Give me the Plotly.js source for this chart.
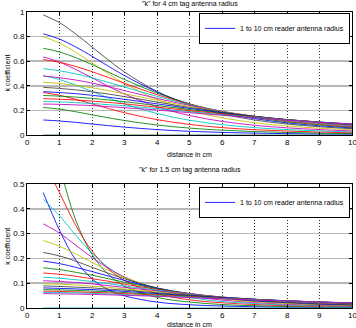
<!DOCTYPE html>
<html>
<head>
<meta charset="utf-8">
<script src="https://cdn.plot.ly/plotly-3.0.1.min.js"></script>
<style>
  html, body { margin: 0; padding: 0; background: #fff; }
  #chart { width: 356px; height: 328px; }
</style>
</head>
<body>
<div id="chart"></div>
<script>
// Distances (cm) at which the coupling coefficient is tabulated
const distance = [0.5, 1, 1.5, 2, 2.5, 3, 4, 5, 6, 7, 8, 9, 10];

// Reader antenna radii (cm), one curve per radius
const readerRadius = [1, 1.5, 2, 2.5, 3, 3.5, 4, 4.5, 5, 5.5, 6, 6.5, 7, 7.5, 8, 8.5, 9, 9.5, 10];

// Axis ranges, tick positions and labels
const xRange = [0, 10];
const xTicks = [0, 1, 2, 3, 4, 5, 6, 7, 8, 9, 10];
const xTickText = ['0', '1', '2', '3', '4', '5', '6', '7', '8', '9', '10'];
const yTicksTop = [0, 0.2, 0.4, 0.6, 0.8, 1];
const yTickTextTop = ['0', '0.2', '0.4', '0.6', '0.8', '1'];
const yTicksBottom = [0, 0.1, 0.2, 0.3, 0.4, 0.5];
const yTickTextBottom = ['0', '0.1', '0.2', '0.3', '0.4', '0.5'];

// k for a 4 cm tag antenna, one row per reader radius
const kTag4 = [
  [0.122, 0.114, 0.103, 0.089, 0.076, 0.064, 0.044, 0.030, 0.021, 0.015, 0.011, 0.008, 0.006],
  [0.224, 0.210, 0.189, 0.164, 0.140, 0.118, 0.081, 0.056, 0.039, 0.028, 0.021, 0.015, 0.012],
  [0.345, 0.323, 0.290, 0.253, 0.216, 0.181, 0.125, 0.086, 0.060, 0.043, 0.032, 0.024, 0.018],
  [0.483, 0.451, 0.406, 0.354, 0.301, 0.253, 0.175, 0.120, 0.084, 0.060, 0.044, 0.033, 0.025],
  [0.635, 0.593, 0.533, 0.465, 0.396, 0.333, 0.230, 0.158, 0.111, 0.079, 0.058, 0.044, 0.033],
  [0.800, 0.747, 0.672, 0.586, 0.499, 0.419, 0.289, 0.200, 0.140, 0.100, 0.073, 0.055, 0.042],
  [0.977, 0.913, 0.821, 0.716, 0.610, 0.512, 0.354, 0.244, 0.171, 0.122, 0.089, 0.067, 0.051],
  [0.823, 0.780, 0.716, 0.640, 0.560, 0.483, 0.350, 0.251, 0.181, 0.133, 0.099, 0.075, 0.058],
  [0.705, 0.675, 0.629, 0.573, 0.512, 0.451, 0.341, 0.253, 0.188, 0.141, 0.107, 0.082, 0.064],
  [0.613, 0.591, 0.557, 0.515, 0.468, 0.420, 0.328, 0.251, 0.191, 0.146, 0.113, 0.088, 0.069],
  [0.539, 0.522, 0.497, 0.465, 0.428, 0.390, 0.314, 0.247, 0.193, 0.150, 0.118, 0.093, 0.074],
  [0.479, 0.466, 0.447, 0.422, 0.393, 0.361, 0.298, 0.240, 0.192, 0.152, 0.121, 0.097, 0.078],
  [0.429, 0.419, 0.404, 0.384, 0.361, 0.335, 0.283, 0.233, 0.189, 0.153, 0.123, 0.100, 0.082],
  [0.387, 0.379, 0.367, 0.351, 0.333, 0.312, 0.268, 0.224, 0.186, 0.152, 0.125, 0.102, 0.084],
  [0.352, 0.345, 0.336, 0.323, 0.307, 0.290, 0.253, 0.216, 0.181, 0.151, 0.125, 0.104, 0.086],
  [0.321, 0.316, 0.308, 0.298, 0.285, 0.271, 0.239, 0.207, 0.176, 0.149, 0.125, 0.105, 0.088],
  [0.295, 0.291, 0.284, 0.276, 0.265, 0.253, 0.226, 0.198, 0.171, 0.146, 0.124, 0.105, 0.089],
  [0.272, 0.269, 0.263, 0.256, 0.247, 0.237, 0.214, 0.189, 0.165, 0.143, 0.122, 0.105, 0.089],
  [0.252, 0.249, 0.245, 0.239, 0.231, 0.222, 0.203, 0.181, 0.160, 0.139, 0.121, 0.104, 0.089]
];

// k for a 1.5 cm tag antenna, one row per reader radius
const kTag15 = [
  [0.465, 0.314, 0.193, 0.118, 0.074, 0.049, 0.024, 0.013, 0.008, 0.005, 0.003, 0.002, 0.002],
  [0.854, 0.576, 0.354, 0.216, 0.136, 0.089, 0.043, 0.024, 0.014, 0.009, 0.006, 0.004, 0.003],
  [0.593, 0.465, 0.333, 0.230, 0.158, 0.111, 0.058, 0.033, 0.021, 0.014, 0.009, 0.007, 0.005],
  [0.438, 0.372, 0.293, 0.221, 0.164, 0.122, 0.069, 0.042, 0.026, 0.018, 0.012, 0.009, 0.007],
  [0.339, 0.302, 0.253, 0.204, 0.160, 0.125, 0.076, 0.048, 0.032, 0.022, 0.015, 0.011, 0.008],
  [0.272, 0.249, 0.218, 0.184, 0.151, 0.123, 0.080, 0.053, 0.036, 0.025, 0.018, 0.013, 0.010],
  [0.224, 0.210, 0.189, 0.164, 0.140, 0.118, 0.081, 0.056, 0.039, 0.028, 0.021, 0.015, 0.012],
  [0.189, 0.179, 0.164, 0.147, 0.129, 0.111, 0.080, 0.058, 0.042, 0.030, 0.023, 0.017, 0.013],
  [0.162, 0.155, 0.144, 0.132, 0.118, 0.104, 0.078, 0.058, 0.043, 0.032, 0.025, 0.019, 0.015],
  [0.141, 0.136, 0.128, 0.118, 0.108, 0.096, 0.075, 0.058, 0.044, 0.034, 0.026, 0.020, 0.016],
  [0.124, 0.120, 0.114, 0.107, 0.098, 0.089, 0.072, 0.057, 0.044, 0.035, 0.027, 0.021, 0.017],
  [0.110, 0.107, 0.103, 0.097, 0.090, 0.083, 0.069, 0.055, 0.044, 0.035, 0.028, 0.022, 0.018],
  [0.098, 0.096, 0.093, 0.088, 0.083, 0.077, 0.065, 0.053, 0.043, 0.035, 0.028, 0.023, 0.019],
  [0.089, 0.087, 0.084, 0.081, 0.076, 0.072, 0.061, 0.052, 0.043, 0.035, 0.029, 0.024, 0.019],
  [0.081, 0.079, 0.077, 0.074, 0.071, 0.067, 0.058, 0.050, 0.042, 0.035, 0.029, 0.024, 0.020],
  [0.074, 0.073, 0.071, 0.068, 0.066, 0.062, 0.055, 0.048, 0.040, 0.034, 0.029, 0.024, 0.020],
  [0.068, 0.067, 0.065, 0.063, 0.061, 0.058, 0.052, 0.046, 0.039, 0.034, 0.028, 0.024, 0.020],
  [0.063, 0.062, 0.061, 0.059, 0.057, 0.054, 0.049, 0.044, 0.038, 0.033, 0.028, 0.024, 0.021],
  [0.058, 0.057, 0.056, 0.055, 0.053, 0.051, 0.047, 0.042, 0.037, 0.032, 0.028, 0.024, 0.021]
];

// Baseline trace drawn along k = 0
const baseline = [0, 0, 0, 0, 0, 0, 0, 0, 0, 0, 0, 0, 0];

// Classic MATLAB line colour order
const colorOrder = ['rgb(0,0,255)', 'rgb(0,128,0)', 'rgb(255,0,0)', 'rgb(0,191,191)',
                    'rgb(191,0,191)', 'rgb(191,191,0)', 'rgb(64,64,64)'];

const legendLabel = '1 to 10 cm reader antenna radius';
const titleTop = '"k" for 4 cm tag antenna radius';
const titleBottom = '"k" for 1.5 cm tag antenna radius';
const xLabel = 'distance in cm';
const yLabel = 'k coefficient';

const FONT = 'Liberation Sans, Arial, sans-serif';

function curveTraces(table, xaxis, yaxis, legendId, baseColor) {
  const traces = table.map((row, i) => ({
    type: 'scatter', mode: 'lines',
    x: distance, y: row,
    xaxis: xaxis, yaxis: yaxis,
    line: { color: colorOrder[i % colorOrder.length], width: 1, shape: 'spline' },
    opacity: 0.85,
    name: legendLabel,
    showlegend: i === 0,
    legend: legendId,
    hoverinfo: 'skip'
  }));
  traces.push({
    type: 'scatter', mode: 'lines',
    x: distance, y: baseline,
    xaxis: xaxis, yaxis: yaxis,
    line: { color: baseColor, width: 1.2 },
    showlegend: false, hoverinfo: 'skip', cliponaxis: false
  });
  return traces;
}

const data = [
  ...curveTraces(kTag4, 'x', 'y', 'legend', 'rgb(60,135,125)'),
  ...curveTraces(kTag15, 'x2', 'y2', 'legend2', 'rgb(40,180,185)')
];

const tickFont = { family: FONT, size: 8, color: '#000' };

function xAxis(anchor) {
  return {
    anchor: anchor, range: xRange,
    tickmode: 'array', tickvals: xTicks, showticklabels: false,
    showgrid: true, gridcolor: '#303030', griddash: '1px,2px', gridwidth: 1,
    zeroline: false, showline: true, linecolor: '#000', linewidth: 1,
    mirror: 'allticks', ticks: 'inside', ticklen: 3, tickcolor: '#000'
  };
}
function yAxis(anchor, domain, top, vals, text) {
  return {
    anchor: anchor, domain: domain, range: [0, top],
    tickmode: 'array', tickvals: vals, ticktext: text,
    showgrid: true, gridcolor: '#b8b8b8', gridwidth: 1.5,
    zeroline: false, showline: true, linecolor: '#000', linewidth: 1,
    mirror: 'allticks', ticks: 'inside', ticklen: 3, tickcolor: '#000',
    tickfont: tickFont
  };
}

const legendBox = (yTop) => ({
  x: 0.994, y: yTop, xanchor: 'right', yanchor: 'top',
  bgcolor: '#fff', bordercolor: '#000', borderwidth: 1,
  font: { family: FONT, size: 7, color: '#000' },
  itemwidth: 30, tracegroupgap: 0
});

const note = (text, x, y, extra) => Object.assign({
  text: text, x: x, y: y, xref: 'paper', yref: 'paper',
  showarrow: false, xanchor: 'center', yanchor: 'middle',
  font: { family: FONT, size: 7, color: '#000' }
}, extra || {});

// x tick labels, placed along each x axis' domain at the tick values
const xTickLabels = (xref, yPaper) => xTicks.map((v, i) => ({
  text: xTickText[i],
  x: (v - xRange[0]) / (xRange[1] - xRange[0]), xref: xref + ' domain',
  y: yPaper, yref: 'paper',
  showarrow: false, xanchor: 'center', yanchor: 'middle',
  font: tickFont
}));

const layout = {
  width: 356, height: 328,
  margin: { l: 27, r: 4, t: 12, b: 20 },
  paper_bgcolor: '#fff', plot_bgcolor: '#fff',
  showlegend: true,
  xaxis: xAxis('y'),
  yaxis: yAxis('x', [0.5845, 1], 1, yTicksTop, yTickTextTop),
  xaxis2: xAxis('y2'),
  yaxis2: yAxis('x2', [0, 0.419], 0.5, yTicksBottom, yTickTextBottom),
  legend: legendBox(0.997),
  legend2: legendBox(0.409),
  annotations: [
    ...xTickLabels('x', 0.558),
    ...xTickLabels('x2', -0.026),
    note(titleTop, 0.5, 1.027),
    note(titleBottom, 0.5, 0.466),
    note(xLabel, 0.5, 0.52),
    note(xLabel, 0.5, -0.056),
    note(yLabel, -0.06, 0.794, { textangle: -90 }),
    note(yLabel, -0.06, 0.209, { textangle: -90 })
  ]
};

Plotly.newPlot('chart', data, layout, { staticPlot: true, displayModeBar: false });
</script>
</body>
</html>
